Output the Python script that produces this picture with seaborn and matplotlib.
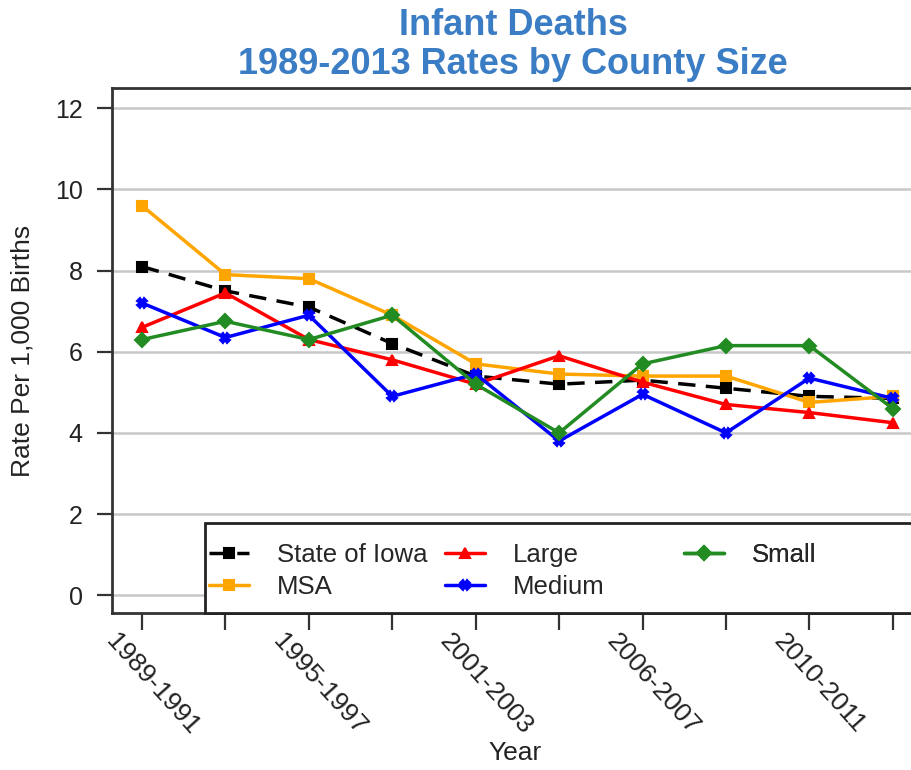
import numpy as np
import pandas as pd
import matplotlib
matplotlib.use("Agg")
import matplotlib.pyplot as plt
import matplotlib.transforms as mtransforms
from matplotlib.patches import Rectangle
import seaborn as sns

categories = ['1989-1991', '1992-1994', '1995-1997', '1998-2000', '2001-2003',
              '2004-2005', '2006-2007', '2008-2009', '2010-2011', '2012-2013']
shown_labels = ['1989-1991', '', '1995-1997', '', '2001-2003',
                '', '2006-2007', '', '2010-2011', '']
series_names = ['State of Iowa', 'MSA', 'Large', 'Medium', 'Small']
iowa = [8.1, 7.5, 7.1, 6.2, 5.4, 5.2, 5.3, 5.1, 4.9, 4.85]
msa = [9.6, 7.9, 7.8, 6.9, 5.7, 5.45, 5.4, 5.4, 4.75, 4.9]
large = [6.6, 7.45, 6.3, 5.8, 5.2, 5.9, 5.25, 4.7, 4.5, 4.25]
medium = [7.2, 6.35, 6.9, 4.9, 5.45, 3.8, 4.95, 4.0, 5.35, 4.85]
small = [6.3, 6.75, 6.3, 6.9, 5.2, 4.0, 5.7, 6.15, 6.15, 4.6]

values = [iowa, msa, large, medium, small]
rows = []
for name, vals in zip(series_names, values):
    for i, v in enumerate(vals):
        rows.append({'idx': i, 'period': categories[i], 'series': name, 'rate': v})
df = pd.DataFrame(rows)

sns.set_style("white")
plt.rcParams['font.family'] = ['Liberation Sans', 'DejaVu Sans']

palette = {'State of Iowa': 'black', 'MSA': '#ffa500', 'Large': '#ff0000',
           'Medium': '#0000ff', 'Small': '#228b22'}
markers = {'State of Iowa': 's', 'MSA': 's', 'Large': '^', 'Medium': 'X', 'Small': 'D'}
dashes = {'State of Iowa': (5, 3), 'MSA': '', 'Large': '', 'Medium': '', 'Small': ''}

fig = plt.figure(figsize=(9.11, 7.70), dpi=100)
ax = fig.add_axes([112/911, 1 - 613/770, 820/911, (613 - 88)/770])

sns.lineplot(data=df, x='idx', y='rate', hue='series', style='series',
             hue_order=series_names, style_order=series_names,
             palette=palette, markers=markers, dashes=dashes,
             linewidth=2.5, markersize=7, ax=ax, legend=True)

for ln in ax.lines:
    ln.set_markeredgecolor(ln.get_color())
    ln.set_markeredgewidth(1.5)

ax.set_xlim(-0.36, 9.47)
ax.set_ylim(-0.44, 12.5)
ax.set_yticks(np.arange(0, 13, 2))
ax.set_yticklabels([str(v) for v in range(0, 13, 2)], fontsize=18, color='#222222')
ax.set_xticks(range(len(categories)))
ax.set_xticklabels(shown_labels, rotation=-48, ha='left', va='top',
                   rotation_mode='anchor', fontsize=19, color='#222222')
ax.tick_params(axis='x', length=12, width=1.6, color='#333333', pad=0, bottom=True)
ax.tick_params(axis='y', length=11, width=1.6, color='#333333', pad=10, left=True)
shift = mtransforms.ScaledTranslation(-0.23, 0.0, fig.dpi_scale_trans)
for lbl in ax.get_xticklabels():
    lbl.set_transform(lbl.get_transform() + shift)

ax.grid(axis='y', color='#c8c8c8', linewidth=1.8)
ax.set_axisbelow(True)
for s in ['left', 'top', 'bottom']:
    ax.spines[s].set_color('#333333')
    ax.spines[s].set_linewidth(2)
ax.spines['right'].set_visible(False)

ax.set_xlabel('Year', fontsize=19, color='#222222')
ax.xaxis.set_label_coords(0.491, -0.243)
ax.set_ylabel('Rate Per 1,000 Births', fontsize=19, color='#222222')
ax.yaxis.set_label_coords(-0.094, 0.5)

ax.set_title('Infant Deaths\n1989-2013 Rates by County Size', fontsize=26,
             fontweight='bold', color='#3b7dc4', pad=10, linespacing=1.15,
             x=0.489)

handles, labels = ax.get_legend_handles_labels()
if ax.get_legend() is not None:
    ax.get_legend().remove()
hmap = dict(zip(labels, handles))
for h in handles:
    h.set_markeredgecolor(h.get_color())

frame = Rectangle(((205 - 112) / 820, 0.0), 1.0, (613 - 523) / 525,
                  transform=ax.transAxes, facecolor='white', edgecolor='#222222',
                  linewidth=2, clip_on=False, zorder=5)
ax.add_patch(frame)

groups = [(['State of Iowa', 'MSA'], 209), (['Large', 'Medium'], 445), (['Small'], 684)]
top_y = (613 - 543) / 525
for names, xpx in groups:
    lg = ax.legend([hmap[n] for n in names], names, loc='upper left',
                   bbox_to_anchor=((xpx - 112) / 820, top_y), frameon=False,
                   fontsize=18.5, handlelength=1.55, handletextpad=1.1,
                   labelspacing=0.3, borderpad=0, borderaxespad=0)
    lg.set_zorder(6)
    ax.add_artist(lg)

fig.savefig('out.png', dpi=100)
